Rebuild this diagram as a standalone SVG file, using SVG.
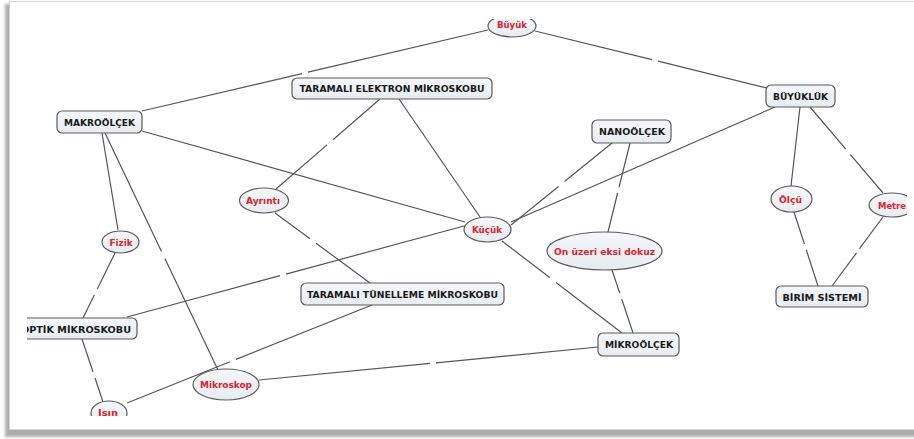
<svg xmlns="http://www.w3.org/2000/svg" width="914" height="439" viewBox="0 0 914 439">
<defs>
<filter id="sh" x="-5%" y="-5%" width="110%" height="110%"><feGaussianBlur stdDeviation="1.6"/></filter>
<clipPath id="clip"><rect x="27" y="19" width="880" height="397"/></clipPath>
<linearGradient id="nf" x1="0" y1="0" x2="0" y2="1"><stop offset="0" stop-color="#f4f7f9"/><stop offset="1" stop-color="#e6edf1"/></linearGradient>
</defs>
<style>
.box{fill:url(#nf);stroke:#5a5a5a;stroke-width:1.2}
.ell{fill:url(#nf);stroke:#5a5a5a;stroke-width:1.2}
.bt{font-family:"DejaVu Sans",Verdana,sans-serif;font-weight:bold;font-size:9.3px;fill:#1a1a1a;text-anchor:middle}
.rt{font-family:"DejaVu Sans",Verdana,sans-serif;font-weight:bold;font-size:9.5px;fill:#e3202c;text-anchor:middle}
#connectors path{fill:none;stroke:#555;stroke-width:1.2}
</style>
<rect width="914" height="439" fill="#fff"/>
<rect x="5" y="4" width="940" height="433" fill="#8a8a8a" opacity="0.7" filter="url(#sh)"/>
<rect x="9.5" y="1.5" width="930" height="428" fill="#fff" stroke="#d4d4d4"/>
<g clip-path="url(#clip)">
<g id="connectors">
<path d="M142,111 L302,73.6 M308,72.2 L488,30"/>
<path d="M535,31 L652,59.7 M658,61.2 L767,88"/>
<path d="M142,131 L465,222"/>
<path d="M380,99 L333,139.7 M327,144.9 L276,189"/>
<path d="M399,99 L480,217"/>
<path d="M612,143 L564.5,181.5 M558.5,186.5 L511,225"/>
<path d="M775,107 L511,222"/>
<path d="M630,143 L619.1,187 M617.6,193 L608,232"/>
<path d="M612,270 L619.7,293 M621.7,299 L633,333"/>
<path d="M502,241 L550,277.8 M556,282.4 L622,333"/>
<path d="M598,347 L436,362.8 M430,363.4 L259,380"/>
<path d="M464,226 L286,274.1 M280,275.7 L127,317"/>
<path d="M275,213 L310,238.8 M316,243.2 L370,283"/>
<path d="M372,305 L236,359.4 M230,361.8 L127,403"/>
<path d="M102,133 L118,230"/>
<path d="M105,133 L161.5,251.5 M164.9,258.6 L218,370"/>
<path d="M115,253 L97.3,289 M94.3,295 L83,318"/>
<path d="M82,339 L93,372 M95,378 L103,402"/>
<path d="M800,107 L791,186"/>
<path d="M810,107 L845.8,149.1 M850.2,154.3 L883,193"/>
<path d="M794,212 L804.4,244 M806.3,250 L818,286"/>
<path d="M883,217 L859.5,248.7 M856.5,252.9 L832,286"/>
</g>
<g id="makroolcek"><rect class="box" x="57" y="111" width="85" height="22" rx="5"/><text class="bt" x="99.5" y="125.5" textLength="71" lengthAdjust="spacingAndGlyphs">MAKROÖLÇEK</text></g>
<g id="tem"><rect class="box" x="292" y="78" width="200" height="21" rx="5"/><text class="bt" x="392" y="92" textLength="185" lengthAdjust="spacingAndGlyphs">TARAMALI ELEKTRON MİKROSKOBU</text></g>
<g id="buyukluk"><rect class="box" x="766" y="85" width="69" height="22" rx="5"/><text class="bt" x="800.5" y="99.5" textLength="55" lengthAdjust="spacingAndGlyphs">BÜYÜKLÜK</text></g>
<g id="nanoolcek"><rect class="box" x="592" y="120" width="79" height="23" rx="5"/><text class="bt" x="632" y="135" textLength="66" lengthAdjust="spacingAndGlyphs">NANOÖLÇEK</text></g>
<g id="ttm"><rect class="box" x="301" y="283" width="203" height="22" rx="5"/><text class="bt" x="402.5" y="297.5" textLength="191" lengthAdjust="spacingAndGlyphs">TARAMALI TÜNELLEME MİKROSKOBU</text></g>
<g id="optik"><rect class="box" x="10" y="318" width="127" height="21" rx="5"/><text class="bt" x="76" y="332.5" textLength="110" lengthAdjust="spacingAndGlyphs">OPTİK MİKROSKOBU</text></g>
<g id="mikroolcek"><rect class="box" x="598" y="333" width="81" height="23" rx="5"/><text class="bt" x="639" y="348" textLength="68" lengthAdjust="spacingAndGlyphs">MİKROÖLÇEK</text></g>
<g id="birim"><rect class="box" x="776" y="286" width="92" height="21" rx="5"/><text class="bt" x="822" y="300.5" textLength="79" lengthAdjust="spacingAndGlyphs">BİRİM SİSTEMİ</text></g>
<g id="buyuk"><ellipse class="ell" cx="512" cy="26" rx="24" ry="11"/><text class="rt" x="512" y="27.5" textLength="30" lengthAdjust="spacingAndGlyphs">Büyük</text></g>
<g id="ayrinti"><ellipse class="ell" cx="264" cy="200.5" rx="24.5" ry="12.5"/><text class="rt" x="263" y="204" textLength="34" lengthAdjust="spacingAndGlyphs">Ayrıntı</text></g>
<g id="fizik"><ellipse class="ell" cx="120.5" cy="242" rx="18.5" ry="11"/><text class="rt" x="121" y="245.5" textLength="23" lengthAdjust="spacingAndGlyphs">Fizik</text></g>
<g id="kucuk"><ellipse class="ell" cx="487.5" cy="229.5" rx="23.5" ry="12.5"/><text class="rt" x="487" y="233" textLength="30" lengthAdjust="spacingAndGlyphs">Küçük</text></g>
<g id="onuzeri"><ellipse class="ell" cx="604.5" cy="251" rx="57.5" ry="19"/><text class="rt" x="604.5" y="254.5" textLength="101" lengthAdjust="spacingAndGlyphs">On üzeri eksi dokuz</text></g>
<g id="olcu"><ellipse class="ell" cx="791.5" cy="199" rx="20.5" ry="13"/><text class="rt" x="790.5" y="202.5" textLength="23" lengthAdjust="spacingAndGlyphs">Ölçü</text></g>
<g id="metre"><ellipse class="ell" cx="892" cy="205" rx="23" ry="12"/><text class="rt" x="892" y="208.5" textLength="28" lengthAdjust="spacingAndGlyphs">Metre</text></g>
<g id="mikroskop"><ellipse class="ell" cx="226" cy="384.5" rx="33" ry="15.5"/><text class="rt" x="226" y="388" textLength="52" lengthAdjust="spacingAndGlyphs">Mikroskop</text></g>
<g id="isin"><ellipse class="ell" cx="109" cy="413" rx="18" ry="12"/><text class="rt" x="108" y="415.5" textLength="20" lengthAdjust="spacingAndGlyphs">Işın</text></g>
</g>
</svg>
